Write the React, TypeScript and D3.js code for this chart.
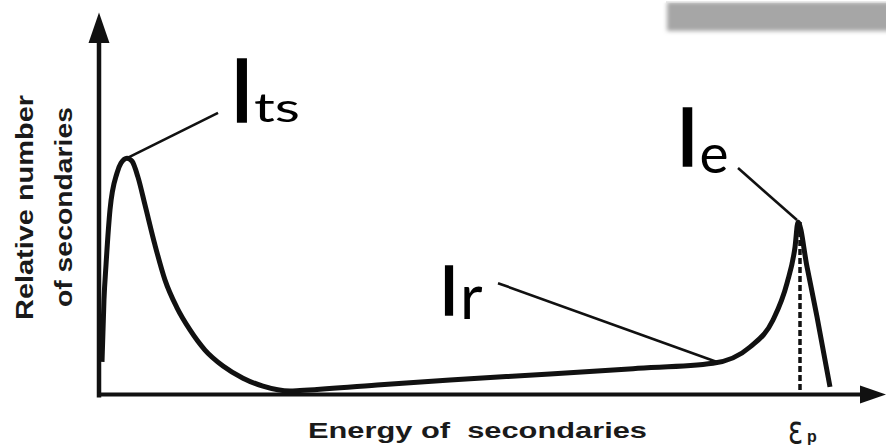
import React from "react";
import * as d3 from "d3";

const WIDTH = 886;
const HEIGHT = 448;

// Secondary-electron energy (percent of the primary energy Ep) and the
// relative number of secondaries emitted at that energy.
const energy = [
  0.43, 0.71, 1.0, 1.57, 2.57, 3.14, 3.99, 4.71, 5.56, 6.56, 7.99, 9.42, 11.13,
  12.98, 15.12, 17.69, 20.54, 23.39, 27.25, 28.67, 39.66, 50.07, 64.34, 76.18,
  87.59, 92.87, 96.15, 98.15, 99.29, 99.72, 101.0, 102.43, 104.28,
];
const counts = [
  8.6, 24.9, 34.1, 48.6, 58.3, 60.9, 62.2, 61.4, 57.2, 49.9, 39.3, 30.1, 22.8,
  17.0, 11.7, 7.5, 4.3, 2.2, 0.9, 1.05, 2.5, 3.8, 5.4, 6.8, 8.2, 12.5, 19.6,
  29.3, 38.8, 45.4, 33.6, 20.4, 2.0,
];

// Primary beam energy marker
const primaryEnergy = 100;
const primaryPeak = 45.4;

// Peak annotations: point on the curve, end of the leader, label anchor
const annoKeys = ["ts", "r", "e"];
const annoPoint: [number, number][] = [
  [4.0, 62.2],
  [88.16, 8.55],
  [99.57, 45.9],
];
const annoLeaderEnd: [number, number][] = [
  [16.98, 74.1],
  [56.92, 29.3],
  [91.16, 59.6],
];
const annoLabelAt: [number, number][] = [
  [20.4, 71.7],
  [49.93, 20.9],
  [83.95, 60.1],
];

const yTitle = ["Relative number", "of secondaries"];
const xTitle = "Energy of  secondaries";

// Label typography for each annotation
const labelStyle: Record<string, { main: number; sub: number; dx: number; dy: number; len?: number }> = {
  ts: { main: 87, sub: 40, dx: 12, dy: 0, len: 46 },
  r: { main: 68, sub: 62, dx: 11, dy: 4 },
  e: { main: 82, sub: 55, dx: 12, dy: 7 },
};

export default function App() {
  const x = d3.scaleLinear().domain([0, 100]).range([99, 800]);
  const y = d3.scaleLinear().domain([0, 100]).range([394.5, 14.5]);

  const pts: [number, number][] = energy.map((e, i) => [e, counts[i]]);
  const line = d3
    .line<[number, number]>()
    .x((d) => x(d[0]))
    .y((d) => y(d[1]))
    .curve(d3.curveMonotoneX);

  const x0 = x(0);
  const y0 = y(0);
  const ink = "#111";
  const labelFont = "Lato, 'Open Sans', sans-serif";
  const scanFont = "'Liberation Sans', Arial, sans-serif";

  return (
    <svg
      width={WIDTH}
      height={HEIGHT}
      viewBox={`0 0 ${WIDTH} ${HEIGHT}`}
      style={{ position: "absolute", left: 0, top: 0, display: "block", background: "#fff" }}
    >
      <defs>
        <filter id="soft" x="-20%" y="-60%" width="140%" height="220%">
          <feGaussianBlur stdDeviation="2" />
        </filter>
      </defs>

      {/* shaded panel edge at the top right */}
      <rect x={667} y={2} width={240} height={29} fill="#a6a6a6" filter="url(#soft)" />
      <rect x={660} y={-6} width={240} height={8.5} fill="#fff" />
      <line x1={666} x2={WIDTH} y1={2} y2={2} stroke="#d2d2d2" strokeWidth={1} />

      {/* axes */}
      <line x1={x0} x2={x0} y1={y0 + 3} y2={40} stroke={ink} strokeWidth={4.5} />
      <path d={`M${x0},12.5 L${x0 - 10.5},43 L${x0 + 10.5},43 Z`} fill={ink} />
      <line x1={x0 - 2} x2={862} y1={y0} y2={y0} stroke={ink} strokeWidth={4} />
      <path d={`M886,${y0} L860,${y0 - 9} L860,${y0 + 9} Z`} fill={ink} />

      {/* primary-energy marker */}
      <line
        x1={x(primaryEnergy)}
        x2={x(primaryEnergy)}
        y1={y(primaryPeak)}
        y2={y0 - 3}
        stroke={ink}
        strokeWidth={3.5}
        strokeDasharray="6 3"
      />

      {/* energy distribution */}
      <path d={line(pts) || ""} fill="none" stroke={ink} strokeWidth={5} strokeLinejoin="round" />

      {/* annotations */}
      {annoKeys.map((k, i) => {
        const st = labelStyle[k];
        const lx = x(annoLabelAt[i][0]);
        const ly = y(annoLabelAt[i][1]);
        return (
          <g key={k}>
            <line
              x1={x(annoPoint[i][0])}
              y1={y(annoPoint[i][1])}
              x2={x(annoLeaderEnd[i][0])}
              y2={y(annoLeaderEnd[i][1])}
              stroke={ink}
              strokeWidth={2.6}
            />
            <text
              x={lx}
              y={ly}
              textAnchor="middle"
              fontFamily={labelFont}
              fontSize={st.main}
              fill="#000"
              stroke="#000"
              strokeWidth={1.6}
            >
              I
            </text>
            <text
              x={lx + st.dx}
              y={ly + st.dy}
              fontFamily={labelFont}
              fontSize={st.sub}
              fill="#000"
              textLength={st.len}
              lengthAdjust={st.len ? "spacingAndGlyphs" : undefined}
            >
              {k}
            </text>
          </g>
        );
      })}

      {/* axis titles */}
      <text
        transform="translate(33,207.5) rotate(-90)"
        textAnchor="middle"
        fontFamily={scanFont}
        fontWeight="bold"
        fontSize={24}
        fill="#1a1a1a"
        textLength={225}
        lengthAdjust="spacingAndGlyphs"
      >
        {yTitle[0]}
      </text>
      <text
        transform="translate(72,207) rotate(-90)"
        textAnchor="middle"
        fontFamily={scanFont}
        fontWeight="bold"
        fontSize={24}
        fill="#1a1a1a"
        textLength={200}
        lengthAdjust="spacingAndGlyphs"
      >
        {yTitle[1]}
      </text>
      <text
        x={308}
        y={438}
        fontFamily={scanFont}
        fontWeight="bold"
        fontSize={21.5}
        fill="#1a1a1a"
        textLength={339}
        lengthAdjust="spacingAndGlyphs"
        style={{ whiteSpace: "pre" }}
      >
        {xTitle}
      </text>

      {/* primary energy symbol */}
      <text
        transform="translate(788,443) scale(0.85,1.2)"
        fontFamily="'DejaVu Sans', sans-serif"
        fontSize={33}
        fill="#1a1a1a"
      >
        ε
      </text>
      <text x={807} y={442} fontFamily={scanFont} fontWeight="bold" fontSize={16} fill="#1a1a1a">
        p
      </text>
    </svg>
  );
}
